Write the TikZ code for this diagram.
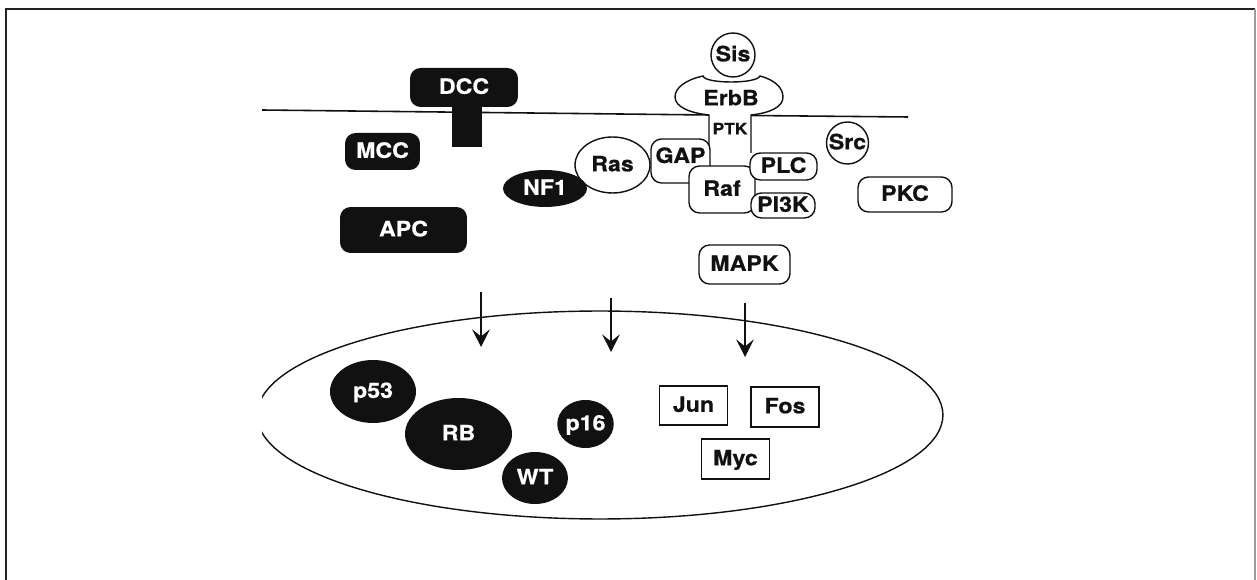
\documentclass[tikz,border=0pt]{standalone}
\usepackage{fontspec}
\setmainfont{TeX Gyre Heros}[FakeStretch=1.1,FakeBold=0.6]
\usepackage{tikz}
\usetikzlibrary{arrows.meta,shapes.geometric}
\definecolor{Ink}{HTML}{111111}
\definecolor{Frame}{HTML}{222222}

\begin{document}
\begin{tikzpicture}[x=0.02cm,y=-0.02cm,>={Stealth[length=10pt,width=10pt,inset=4pt]},
  every node/.style={font=\fontsize{12}{13}\selectfont\bfseries,text height=0.72em,text depth=0pt},
  supp/.style={fill=Ink,text=white,inner sep=0pt},
  onco/.style={draw=Ink,line width=0.8pt,fill=white,text=Ink,inner sep=0pt},
  memline/.style={line width=0.9pt,Ink}]
  \useasboundingbox (0,0) rectangle (1257,580);
  \draw[line width=1.1pt,Frame] (6,580) -- (6,9) -- (1255,9);
  \draw[line width=1.1pt,Frame!45] (1255,9) -- (1255,580);
  \draw[memline] (262,110) -- (709,115);
  \draw[memline] (751,115.5) -- (908,117);
  \node[supp,minimum width=0.6cm,minimum height=0.85cm] (dccstem) at (467,126) {};
  \node[supp,rounded corners=6pt,minimum width=2.16cm,minimum height=0.78cm] (dcc) at (464,87.5) {DCC};
  \foreach \n/\x/\y/\w/\h/\t in {mcc/382.5/151.5/1.5/0.74/MCC, apc/403.5/230/2.54/0.92/APC}
  {
    \node[supp,rounded corners=6pt,minimum width=\w cm,minimum height=\h cm] (\n) at (\x,\y) {\t};
  }
  \node[onco,ellipse,minimum width=1.5cm,minimum height=1.12cm] (ras) at (612.5,165) {Ras};
  \node[supp,ellipse,minimum width=1.68cm,minimum height=0.74cm] (nf1) at (545,188.5) {NF1};
  \draw[onco] (709,166) -- (709,115) .. controls (690,113) and (675,107) .. (675,97)
    .. controls (675,88) and (685,80) .. (703,76) .. controls (705,84) and (757,84) .. (760,76)
    .. controls (775,80) and (783,88) .. (783,97) .. controls (783,107) and (770,113) .. (751,115)
    -- (751,153);
  \node[text=Ink] (erbb) at (731,99) {ErbB};
  \node[text=Ink,font=\fontsize{9}{10}\selectfont\bfseries] (ptk) at (730,128) {PTK};
  \node[onco,circle,minimum size=0.88cm] (sis) at (733,55) {Sis};
  \node[onco,rounded corners=6pt,minimum width=1.18cm,minimum height=0.88cm,text height=0.3cm,text depth=0.22cm] (gap) at (680.5,161) {GAP};
  \node[onco,rounded corners=6pt,minimum width=1.32cm,minimum height=0.94cm] (raf) at (722,189.5) {Raf};
  \foreach \n/\x/\y/\w/\h/\t in {plc/783.5/166.5/1.34/0.54/PLC, pi3k/783/205.5/1.28/0.5/PI3K,
    pkc/905/194.5/1.88/0.7/PKC, mapk/744.5/264.5/1.82/0.78/MAPK}
  {
    \node[onco,rounded corners=6pt,minimum width=\w cm,minimum height=\h cm] (\n) at (\x,\y) {\t};
  }
  \node[onco,circle,minimum size=0.84cm] (src) at (847.5,143) {Src};
  \foreach \i/\x/\ya/\yb in {1/481/292/347, 2/611/298/352, 3/745/303/357}
  {
    \coordinate (up\i) at (\x,\ya);
    \coordinate (dn\i) at (\x,\yb);
    \draw[->,line width=0.7pt,Ink] (up\i) -- (dn\i);
  }
  \begin{scope}
    \clip (262,0) rectangle (1257,580);
    \draw[line width=0.8pt,Ink] (600,415) ellipse [x radius=6.86cm, y radius=2.08cm];
  \end{scope}
  \foreach \n/\x/\y/\w/\h/\t in {p53/373/391.5/1.72/1.26/p53, rb/458.5/434/2.14/1.44/RB,
    wt/535/478/1.32/1.04/WT, p16/585.5/424/1.06/0.96/p16}
  {
    \node[supp,ellipse,minimum width=\w cm,minimum height=\h cm] (\n) at (\x,\y) {\t};
  }
  \foreach \n/\x/\y/\t in {jun/693.5/405.5/Jun, fos/785/407/Fos, myc/735.5/459/Myc}
  {
    \node[onco,line width=0.9pt,minimum width=1.36cm,minimum height=0.79cm] (\n) at (\x,\y) {\t};
  }
\end{tikzpicture}
\end{document}
